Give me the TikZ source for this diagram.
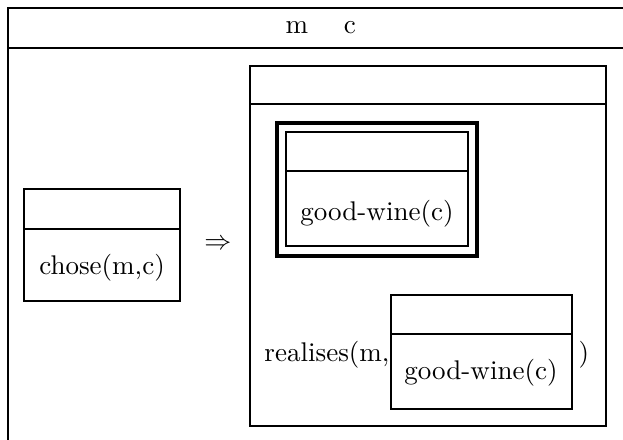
\documentclass[tikz,border=0pt]{standalone}
\begin{document}
\begin{tikzpicture}[x=0.37pt,y=-0.37pt,
  frame/.style={draw=black,line width=0.75pt},
  thickframe/.style={draw=black,line width=1.5pt},
  lbl/.style={inner sep=0pt,font=\fontsize{10}{12}\selectfont}]
\useasboundingbox (0,0) rectangle (623,440);
\clip (0,0) rectangle (623,440);
% outer box (runs past the page edges)
\draw[frame] (8,460) -- (8,8) -- (640,8);
\draw[frame] (8,48) -- (640,48);
\node[lbl] (refm) at (297,28) {m};
\node[lbl] (refc) at (350,28) {c};
% antecedent box
\draw[frame] (24,189) rectangle (180,301);
\draw[frame] (24,229) -- (180,229);
\node[lbl] (chose) at (102,268) {chose(m,c)};
\node[lbl] (imp) at (218,245) {$\Rightarrow$};
% consequent box
\draw[frame,line width=0.9pt] (250,66) rectangle (606,426);
\draw[frame,line width=0.9pt] (250,104) -- (606,104);
% double-framed box
\draw[thickframe] (277,123) rectangle (477,256);
\draw[frame] (286,132) rectangle (468,246);
\draw[frame] (286,171) -- (468,171);
\node[lbl] (gw1) at (377,214) {good-wine(c)};
% argument box
\node[lbl,anchor=east] (real) at (390,355) {realises(m,};
\draw[frame] (391,295) rectangle (572,409);
\draw[frame] (391,334) -- (572,334);
\node[lbl] (gw2) at (481,373) {good-wine(c)};
\node[lbl] (close) at (584,355) {)};
\end{tikzpicture}
\end{document}
